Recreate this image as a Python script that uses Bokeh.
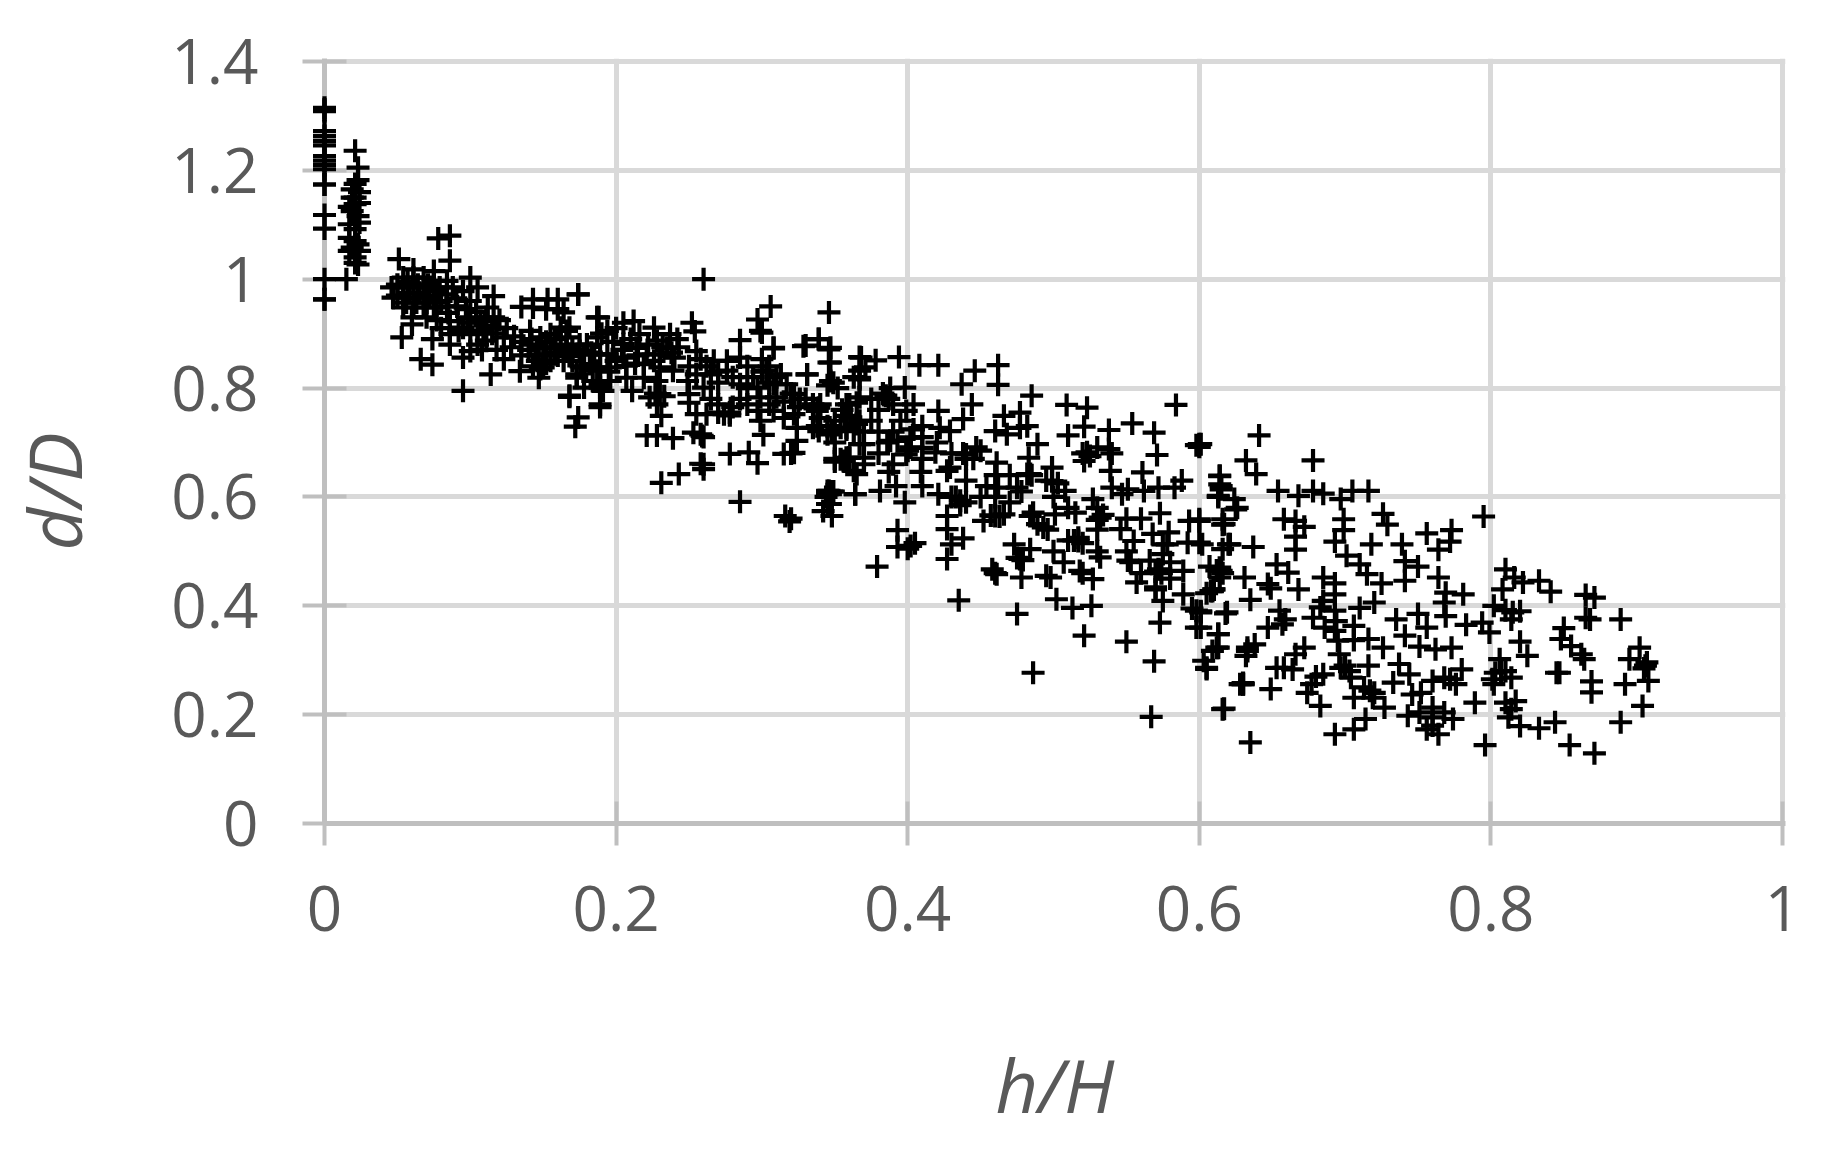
from math import pi
from bokeh.plotting import figure
from bokeh.models import FixedTicker, Range1d, ColumnDataSource
from bokeh.core.properties import value
from bokeh.embed import file_html
from bokeh.resources import INLINE

x_ticks = [0, 0.2, 0.4, 0.6, 0.8, 1]
y_ticks = [0, 0.2, 0.4, 0.6, 0.8, 1, 1.2, 1.4]
x_labels = ["0", "0.2", "0.4", "0.6", "0.8", "1"]
y_labels = ["0", "0.2", "0.4", "0.6", "0.8", "1", "1.2", "1.4"]

# (h/H, d/D), region by region
points_wall = [
(0,1.315),(0,1.309),(0,1.312),(0,1.272),(0,1.263),(0,1.254),(0,1.246),(0,1.226),(0,1.218),(0,1.21),(0,1.202),
(0,1.174),(0,1.174),(0,1.118),(0,1.093),(0,1.0),(0,.963),(0,.963),
(.021,1.236),(.023,1.205),(.023,1.182),(.019,1.165),(.021,1.15),(.021,1.138),(.017,1.133),(.023,1.116),(.017,1.101),
(.021,1.092),(.017,1.076),(.023,1.064),(.017,1.052),(.024,1.052),(.021,1.03),(.023,1.027),(.015,1.0),
(.021,1.175),(.024,1.16),(.019,1.15),(.024,1.14),(.019,1.125),(.024,1.104),(.021,1.07),(.019,1.058),(.021,1.04),
]
points_near = [
(.078,1.075),(.086,1.08),(.051,1.037),(.061,1.018),(.086,1.034),(.1,1.003),(.046,.985),(.047,.966),
(.054,1.003),(.054,.985),(.054,.966),(.061,1.003),(.061,.985),(.061,.966),(.068,1.003),(.068,.985),(.068,.966),
(.075,1.015),(.075,.997),(.075,.978),(.084,.997),(.084,.972),(.088,.985),(.095,.978),(.1,.96),(.105,.985),
(.054,.948),(.061,.948),(.068,.948),(.075,.948),(.06,.93),(.06,.917),(.053,.893),(.066,.853),(.074,.843),(.074,.89),
(.086,.88),(.095,.856),(.095,.795),(.114,.825),(.123,.853),(.134,.831),(.147,.819),(.168,.786),(.174,.972),
(.153,.963),(.143,.963),(.16,.963),(.135,.949),(.143,.948),(.152,.945),(.16,.945),(.116,.969),(.112,.948),(.111,.93),
(.116,.93),(.107,.923),(.109,.905),(.118,.911),(.098,.93),(.095,.911),(.1,.899),(.086,.923),(.086,.899),(.105,.88),
(.111,.887),(.1,.868),(.123,.893),(.141,.88),(.148,.893),(.155,.874),(.15,.862),(.155,.899),(.162,.88),(.146,.85),
(.155,.85),(.15,.838),(.141,.905),(.168,.911),(.162,.911),(.166,.893),(.164,.85),(.178,.862),(.182,.844),(.173,.825),
(.189,.862),(.189,.838),(.189,.807),(.187,.893),(.189,.77),(.187,.93),(.178,.801),
]
points_near_dense = [
(.05,.99),(.057,.995),(.064,.99),(.071,.99),(.079,.985),(.058,.975),(.065,.975),(.072,.97),(.08,.96),(.05,.97),
(.056,.957),(.063,.957),(.07,.957),(.077,.958),(.084,.95),(.091,.95),(.097,.945),(.09,.965),(.104,.94),(.11,.915),
(.12,.925),(.125,.91),(.13,.895),(.115,.9),(.105,.905),(.092,.905),(.08,.91),(.085,.938),(.07,.93),(.077,.925),
(.1,.92),(.108,.87),(.118,.87),(.128,.875),(.135,.885),(.142,.89),(.14,.87),(.147,.875),(.152,.885),(.158,.89),
(.158,.865),(.145,.86),(.152,.845),(.16,.86),(.143,.84),(.148,.835),(.135,.86),(.17,.87),(.175,.88),(.17,.85),
(.18,.88),(.183,.865),(.176,.84),(.195,.83),(.2,.85),(.204,.87),(.198,.885),(.21,.89),(.215,.86),(.213,.845),
(.222,.88),(.226,.85),(.232,.875),(.238,.865),(.243,.875),
]
points_mid_left = [
(.26,1.0),(.174,.972),(.306,.95),(.346,.939),(.297,.926),(.33,.878),(.339,.89),(.346,.871),(.346,.847),(.252,.92),
(.254,.904),(.285,.888),(.299,.905),(.308,.873),(.367,.857),(.331,.825),(.349,.81),(.345,.805),(.352,.8),(.363,.82),
(.188,.93),(.205,.92),(.212,.923),(.226,.911),(.237,.899),(.242,.89),(.164,.939),(.166,.905),(.194,.905),(.2,.91),
(.19,.9),(.216,.899),(.228,.887),(.235,.874),(.175,.868),(.185,.862),(.194,.862),(.205,.881),(.205,.856),(.214,.874),
(.221,.862),(.23,.862),(.24,.856),(.166,.874),(.168,.859),(.178,.838),(.187,.832),(.196,.838),(.207,.841),(.219,.844),
(.23,.838),(.239,.832),(.173,.819),(.184,.813),(.196,.813),(.207,.819),(.219,.819),(.228,.813),(.191,.795),(.189,.801),
(.211,.795),(.168,.784),(.189,.765),(.174,.746),(.172,.729),(.23,.789),(.233,.785),(.227,.79),(.223,.783),(.228,.77),
(.231,.749),(.221,.713),(.228,.713),(.239,.708),(.25,.789),(.25,.773),(.255,.752),(.253,.718),(.259,.712),(.26,.71),
(.258,.715),(.231,.626),(.243,.642),(.258,.661),(.26,.66),(.26,.651),(.278,.679),(.291,.682),(.297,.662),(.285,.591),
(.315,.679),(.32,.68),(.322,.681),(.301,.714),(.324,.727),(.324,.703),(.258,.853),(.255,.868),(.267,.85),(.276,.85),
(.255,.825),(.265,.825),(.276,.832),(.26,.801),(.249,.813),(.285,.856),(.3,.853),(.303,.832),(.305,.84),(.3,.83),
(.313,.825),(.294,.82),(.285,.807),(.297,.801),(.308,.807),(.317,.807),(.285,.78),(.299,.783),(.31,.783),(.322,.789),
(.326,.78),(.262,.752),(.274,.752),(.278,.75),(.27,.755),(.278,.755),(.297,.758),(.308,.758),(.299,.74),(.322,.752),
(.338,.758),(.34,.77),(.335,.727),(.338,.73),(.345,.715),(.354,.727),(.363,.721),(.361,.746),(.358,.672),(.356,.666),
(.35,.67),(.363,.648),(.345,.611),(.347,.605),(.344,.6),(.349,.61),(.345,.587),(.364,.605),
]
points_mid_dense = [
(.25,.84),(.262,.84),(.27,.83),(.27,.81),(.28,.82),(.29,.84),(.29,.8),(.305,.81),(.31,.82),(.32,.79),
(.315,.775),(.325,.765),(.33,.78),(.335,.77),(.305,.77),(.29,.77),(.28,.765),(.27,.77),(.265,.78),(.315,.745),
(.34,.745),(.345,.73),(.35,.74),(.355,.76),(.36,.77),(.375,.78),(.38,.76),(.39,.77),(.395,.74),(.41,.73),
(.375,.74),(.38,.72),(.39,.72),(.41,.71),(.42,.7),(.37,.72),(.35,.7),(.37,.66),(.38,.68),(.41,.67),
(.39,.66),(.41,.69),(.43,.68),(.43,.6),(.46,.6),(.47,.59),(.45,.6),(.47,.64),(.46,.64),(.5,.6),
(.51,.58),(.44,.63),(.41,.62),(.5,.5),(.51,.52),(.53,.54),(.55,.56),(.56,.46),(.58,.45),(.55,.5),
(.53,.5),(.56,.56),(.58,.48),
]
points_mid_right = [
(.339,.89),(.3285,.877),(.347,.874),(.308,.874),(.30,.902),(.368,.856),(.378,.851),(.394,.857),(.408,.842),(.421,.842),
(.446,.832),(.462,.842),(.437,.807),(.462,.806),(.347,.847),(.331,.825),(.367,.832),(.371,.838),(.367,.816),(.485,.786),
(.509,.769),(.523,.764),(.584,.769),(.554,.735),(.569,.718),(.538,.723),(.521,.729),(.51,.713),(.6,.697),(.6,.692),
(.598,.695),(.444,.77),(.421,.758),(.466,.749),(.477,.755),(.477,.727),(.482,.73),(.468,.715),(.438,.743),(.429,.721),
(.422,.727),(.46,.721),(.489,.697),(.483,.672),(.484,.642),(.461,.663),(.44,.678),(.438,.68),(.445,.67),(.44,.67),
(.45,.685),(.447,.691),(.429,.654),(.419,.682),(.402,.709),(.402,.691),(.399,.678),(.404,.724),(.393,.703),(.386,.7),
(.399,.758),(.404,.77),(.385,.786),(.387,.78),(.383,.79),(.388,.8),(.398,.801),(.365,.773),(.357,.749),(.347,.813),
(.339,.764),(.339,.721),(.348,.721),(.358,.724),(.365,.734),(.37,.697),(.354,.669),(.36,.672),(.35,.665),(.365,.642),
(.364,.605),(.346,.611),(.345,.605),(.348,.61),(.347,.587),(.342,.574),(.348,.565),(.316,.565),(.319,.555),(.32,.56),
(.381,.611),(.392,.62),(.398,.59),(.387,.646),(.409,.646),(.427,.648),(.421,.605),(.436,.593),(.433,.6),(.44,.59),
(.436,.585),(.427,.565),(.427,.541),(.438,.524),(.43,.513),(.427,.486),(.393,.539),(.393,.508),(.402,.51),(.405,.515),
(.4,.505),(.379,.472),(.435,.41),(.458,.467),(.46,.46),(.461,.458),(.475,.385),(.486,.277),(.502,.412),(.513,.396),
(.526,.4),(.521,.345),(.55,.334),(.569,.298),(.567,.196),(.617,.211),(.573,.369),(.613,.348),(.605,.284),(.603,.299),
(.612,.323),(.63,.256),(.628,.256),(.633,.317),(.478,.452),(.495,.455),(.498,.452),(.473,.513),(.484,.504),(.477,.486),
(.479,.484),(.475,.488),(.493,.544),(.489,.55),(.496,.54),(.46,.565),(.457,.566),(.463,.564),(.452,.556),(.466,.568),
(.486,.571),(.484,.565),(.501,.568),(.515,.571),(.517,.519),(.514,.52),(.52,.515),(.517,.525),(.546,.541),(.555,.519),
(.532,.562),(.534,.567),(.53,.558),(.527,.596),(.53,.58),(.54,.617),(.547,.605),(.551,.614),(.562,.611),(.572,.617),
(.583,.617),(.588,.63),(.561,.645),(.539,.648),(.53,.691),(.523,.682),(.52,.68),(.525,.675),(.538,.688),(.54,.68),
(.521,.666),(.571,.677),(.499,.654),(.499,.629),(.495,.63),(.503,.625),(.482,.642),(.485,.64),(.475,.617),(.478,.61),
(.462,.617),(.454,.62),(.508,.611),(.573,.57),(.568,.532),(.579,.535),(.593,.556),(.6,.556),(.6,.516),(.592,.516),
(.614,.639),(.615,.62),(.613,.602),(.626,.58),(.617,.55),(.621,.513),(.614,.47),(.612,.465),(.616,.46),(.575,.513),
(.578,.513),(.575,.495),(.551,.483),(.553,.48),(.532,.489),(.566,.483),(.572,.467),(.574,.46),(.57,.463),(.57,.434),
(.57,.43),(.575,.409),(.589,.464),(.557,.443),(.527,.449),(.518,.464),(.52,.46),(.507,.48),(.589,.421),(.598,.391),
(.601,.39),(.595,.395),(.609,.427),(.61,.43),(.605,.423),(.598,.36),(.619,.388),
(.367,.819),(.367,.783),(.367,.74),(.367,.697),(.358,.77),(.358,.727),(.37,.672),(.36,.672),(.402,.709),(.4,.685),(.388,.703),
]
points_far = [
(.641,.713),(.601,.697),(.632,.667),(.639,.642),(.678,.667),(.614,.638),(.614,.623),(.615,.614),(.613,.6),(.624,.596),
(.625,.577),(.654,.611),(.668,.602),(.678,.611),(.685,.606),(.697,.596),(.705,.611),(.716,.611),(.726,.569),(.729,.549),
(.699,.559),(.699,.539),(.693,.518),(.718,.513),(.739,.513),(.756,.533),(.773,.539),(.772,.518),(.764,.503),(.795,.564),
(.658,.559),(.666,.556),(.672,.545),(.666,.527),(.666,.503),(.616,.549),(.616,.559),(.6,.559),(.637,.508),(.62,.513),
(.616,.504),(.602,.513),(.701,.492),(.71,.476),(.715,.458),(.725,.441),(.741,.482),(.75,.472),(.741,.446),(.764,.452),
(.769,.424),(.781,.421),(.768,.406),(.769,.381),(.653,.476),(.661,.461),(.631,.452),(.647,.44),(.649,.432),(.668,.43),
(.685,.452),(.693,.441),(.693,.421),(.685,.409),(.683,.397),(.693,.391),(.72,.406),(.71,.396),(.635,.411),(.608,.427),
(.61,.43),(.615,.464),(.614,.452),(.607,.472),(.618,.386),(.601,.388),(.655,.391),(.659,.375),(.657,.366),(.647,.36),
(.678,.378),(.686,.36),(.693,.354),(.706,.363),(.735,.375),(.75,.385),(.756,.36),(.613,.348),(.613,.323),(.601,.36),
(.706,.337),(.716,.339),(.726,.323),(.741,.345),(.751,.325),(.762,.32),(.773,.323),(.783,.365),(.794,.369),(.799,.351),
(.802,.4),(.808,.43),(.81,.467),(.816,.452),(.822,.443),(.833,.446),(.841,.426),(.865,.42),(.871,.415),(.815,.388),
(.81,.392),(.82,.39),(.814,.375),(.865,.378),(.868,.375),(.889,.375),(.85,.359),(.848,.339),(.855,.326),(.862,.311),
(.864,.302),(.869,.261),(.869,.241),(.845,.277),(.847,.277),(.82,.334),(.825,.308),(.806,.302),(.807,.28),(.81,.28),
(.803,.277),(.801,.265),(.802,.256),(.814,.268),(.81,.222),(.817,.225),(.814,.21),(.812,.195),(.82,.179),(.833,.175),
(.844,.186),(.854,.144),(.871,.129),(.889,.186),(.904,.216),(.892,.256),(.908,.262),(.906,.29),(.907,.296),(.905,.285),
(.902,.323),(.895,.302),(.796,.144),(.789,.222),(.78,.283),(.776,.256),(.768,.268),(.772,.265),(.76,.262),(.744,.274),
(.737,.293),(.733,.259),(.716,.29),(.697,.286),(.7,.29),(.703,.28),(.685,.274),(.68,.27),(.677,.256),(.674,.24),
(.683,.216),(.704,.268),(.717,.244),(.72,.24),(.713,.25),(.706,.231),(.719,.231),(.727,.213),(.714,.192),(.706,.173),
(.693,.164),(.746,.237),(.743,.198),(.752,.24),(.76,.213),(.76,.195),(.768,.204),(.774,.192),(.756,.173),(.764,.164),
(.76,.18),(.751,.204),(.664,.283),(.653,.286),(.658,.286),(.666,.311),(.672,.323),(.633,.323),(.632,.308),(.638,.329),
(.609,.317),(.605,.286),(.63,.256),(.63,.258),(.649,.247),(.616,.21),(.635,.149),(.696,.311),(.695,.336),(.694,.372),
]

all_points = points_wall + points_near + points_near_dense + points_mid_left + points_mid_dense + points_mid_right + points_far
source = ColumnDataSource(data=dict(h=[a for a, b in all_points], d=[b for a, b in all_points]))

# The ranges run 3px past the last tick, so that the grid also draws its last lines in full
p = figure(
    frame_width=1461, frame_height=765,
    min_border_left=324, min_border_right=37, min_border_top=58, min_border_bottom=320,
    x_range=Range1d(0, 1 + 3 / 1458), y_range=Range1d(0, 1.4 + 3 * 1.4 / 762),
    toolbar_location=None, output_backend="svg", outline_line_color=None,
    background_fill_color="white", border_fill_color="white",
)

p.xaxis.ticker = FixedTicker(ticks=x_ticks)
p.yaxis.ticker = FixedTicker(ticks=y_ticks)
p.xaxis.major_label_overrides = dict(zip(x_ticks, x_labels))
p.yaxis.major_label_overrides = dict(zip(y_ticks, y_labels))

for ax in (p.xaxis[0], p.yaxis[0]):
    ax.axis_line_color = "#BFBFBF"
    ax.axis_line_width = 5
    ax.major_tick_line_color = "#BFBFBF"
    ax.major_tick_line_width = 4
    ax.major_tick_in = 22
    ax.major_tick_out = 22
    ax.minor_tick_line_color = None
    ax.major_label_text_font = "Open Sans"
    ax.major_label_text_font_size = "62px"
    ax.major_label_text_color = "#595959"
    ax.axis_label_text_font = "Open Sans"
    ax.axis_label_text_font_size = "74px"
    ax.axis_label_text_font_style = "italic"
    ax.axis_label_text_color = "#595959"

p.xaxis[0].major_label_standoff = 40
p.yaxis[0].major_label_standoff = 44
p.xaxis[0].axis_label = "h/H"
p.xaxis[0].axis_label_standoff = 100

p.grid.grid_line_color = "#D9D9D9"
p.grid.grid_line_width = 5

p.text(x=[-0.186], y=[0.61], text=["d/D"], angle=pi / 2, text_align="center", text_baseline="middle",
       text_font=value("Open Sans"), text_font_size="74px", text_font_style="italic", text_color="#595959",
       level="overlay")

p.scatter("h", "d", source=source, marker="cross", size=23, line_color="#000000", line_width=4.2,
          fill_color=None, level="overlay")

open("out.html", "w").write(file_html(p, INLINE))
